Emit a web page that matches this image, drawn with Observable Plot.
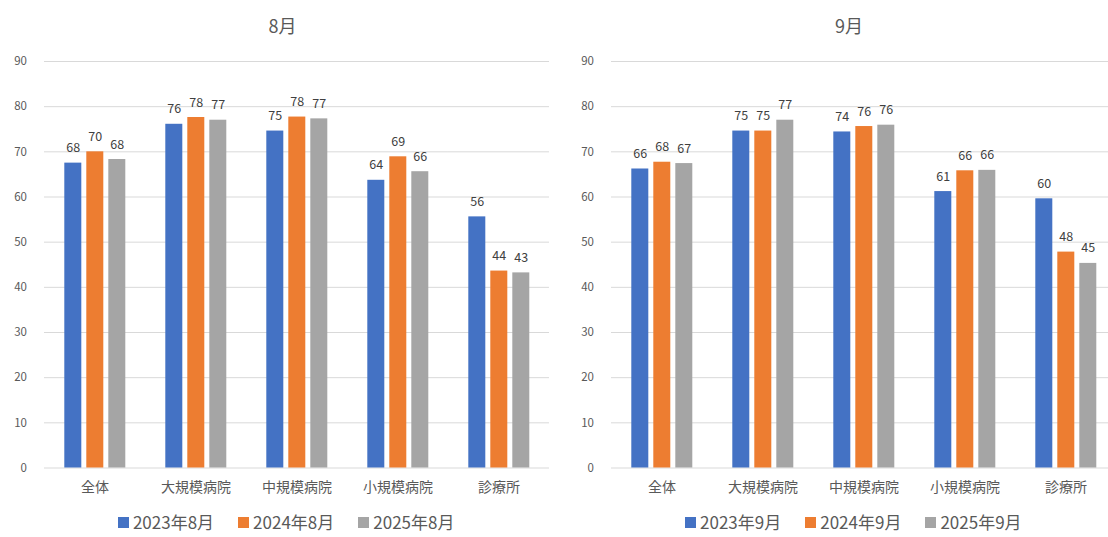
<!DOCTYPE html>
<html>
<head>
<meta charset="utf-8">
<script src="https://cdn.jsdelivr.net/npm/d3@7"></script>
<script src="https://cdn.jsdelivr.net/npm/@observablehq/plot@0.6"></script>
<style>
  html, body { margin: 0; padding: 0; background: #fff; }
  body { font-family: "Noto Sans CJK JP", "Noto Sans", sans-serif; }
  #wrap { position: relative; width: 1108px; height: 537px; overflow: hidden; background: #fff; }
  .abs { position: absolute; }
  .title { text-align: center; font-size: 18px; color: #595959; height: 24px; line-height: 24px; }
  .legend { display: flex; justify-content: center; height: 30px; align-items: center; overflow: visible; }
  .lg-swatches { font-family: "Noto Sans CJK JP", sans-serif !important; font-size: 17px !important; line-height: 22px !important; color: #595959 !important; margin: 0 !important; min-height: 0 !important; display: flex !important; align-items: center !important; flex-wrap: nowrap !important; overflow: visible !important; }
  .lg-swatch { margin-right: 24px !important; white-space: nowrap; overflow: visible !important; }
  .lg-swatch:last-child { margin-right: 0 !important; }
  .lg-swatch > svg { margin-right: 4px !important; }
</style>
</head>
<body>
<div id="wrap"></div>
<script>
// ---- data ----
const categories = ["全体", "大規模病院", "中規模病院", "小規模病院", "診療所"];
const seriesAug = ["2023年8月", "2024年8月", "2025年8月"];
const seriesSep = ["2023年9月", "2024年9月", "2025年9月"];
const aug2023 = [67.5, 76.1, 74.6, 63.7, 55.6];
const aug2024 = [70.0, 77.6, 77.7, 68.9, 43.6];
const aug2025 = [68.3, 77.0, 77.3, 65.6, 43.2];
const sep2023 = [66.2, 74.6, 74.4, 61.2, 59.6];
const sep2024 = [67.7, 74.6, 75.6, 65.8, 47.8];
const sep2025 = [67.4, 77.0, 75.9, 65.9, 45.3];
const colors = ["#4472C4", "#ED7D31", "#A5A5A5"];
const yTicks = [0, 10, 20, 30, 40, 50, 60, 70, 80, 90];
const titles = ["8月", "9月"];

function rowsOf(series, arrays) {
  const rows = [];
  categories.forEach((c, i) => {
    series.forEach((s, j) => rows.push({cat: c, series: s, value: arrays[j][i]}));
  });
  return rows;
}

function makeChart(series, arrays) {
  const rows = rowsOf(series, arrays);
  return Plot.plot({
    width: 560, height: 465,
    marginTop: 21, marginBottom: 37.5, marginLeft: 41.7, marginRight: 9,
    style: {fontFamily: '"Noto Sans CJK JP", sans-serif', fontSize: "11px", color: "#595959", background: "transparent", overflow: "visible"},
    fx: {domain: categories, padding: 0, axis: null, label: null},
    x: {domain: series, axis: null, paddingInner: 0.228, paddingOuter: 0.846},
    y: {domain: [0, 90], axis: null, label: null},
    color: {domain: series, range: colors},
    marks: [
      Plot.gridY(yTicks, {stroke: "#d9d9d9", strokeOpacity: 1, strokeWidth: 1}),
      Plot.barY(rows, {fx: "cat", x: "series", y: "value", fill: "series"}),
      Plot.text(rows, {fx: "cat", x: "series", y: "value", text: d => String(Math.round(d.value)), dy: -15, fill: "#404040", fontSize: 12.5}),
      Plot.axisY(yTicks, {tickSize: 0, tickPadding: 17.5, label: null, fill: "#595959", fontSize: 11.5}),
      Plot.axisFx({anchor: "bottom", tickSize: 0, tickPadding: 14.5, label: null, fill: "#595959", fontSize: 14})
    ]
  });
}

function makeLegend(series) {
  return Plot.legend({
    color: {domain: series, range: colors},
    legend: "swatches",
    swatchSize: 11,
    className: "lg"
  });
}

const wrap = document.getElementById("wrap");

function place(el, left, top, width) {
  el.classList.add("abs");
  el.style.left = left + "px";
  el.style.top = top + "px";
  if (width != null) el.style.width = width + "px";
  wrap.appendChild(el);
  return el;
}

// titles
[[titles[0], 282.5], [titles[1], 849.1]].forEach(([t, cx]) => {
  const d = document.createElement("div");
  d.className = "title";
  d.textContent = t;
  place(d, cx - 100, 12.5, 200);
});

// charts (right panel is the same layout shifted right and clipped by the frame)
place(makeChart(seriesAug, [aug2023, aug2024, aug2025]), 0, 40);
place(makeChart(seriesSep, [sep2023, sep2024, sep2025]), 566.6, 40);

// legends
[[seriesAug, 286.2], [seriesSep, 853.3]].forEach(([s, cx]) => {
  const d = document.createElement("div");
  d.className = "legend";
  d.appendChild(makeLegend(s));
  place(d, cx - 200, 507, 400);
});
</script>
</body>
</html>
